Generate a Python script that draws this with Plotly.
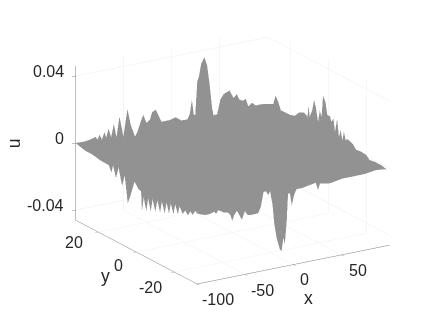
import numpy as np
import plotly.graph_objects as go

X_MIN, X_MAX = -100, 100
Y_MIN, Y_MAX = -32, 32
U_MIN, U_MAX = -0.046, 0.046

x_ticks = [-100, -50, 0, 50]
x_ticklabels = ["-100", "-50", "0", "50"]
y_ticks = [-20, 0, 20]
y_ticklabels = ["-20", "0", "20"]
u_ticks = [-0.04, 0, 0.04]
u_ticklabels = ["-0.04", "0", "0.04"]

# u (x1000) along the edge y = Y_MAX
x_back = [-100,-91.4,-87,-83,-79,-77,-75,-72.5,-70,-67.7,-65.6,-62.9,-60.1,-57.4,-54.3,-50.2,-46,-42.6,-38.1,-35.4,
          -32.7,-29.6,-26.1,-22.7,-20.3,-16.5,-14.1,-10.6,-2.1,4.1,10,16.2,18.6,21,23,24.4,26.5,28.2,30.6,34,36.8,
          39.5,42,43.6,47.1,50.5,53.9,60.1,64.3,67.7,70.4,73.9,77,79.7,83.5,87.6,91.8,100]
u_back = [0,-0.2,0.1,0.6,1.3,-0.7,2.2,-1.0,3.1,-0.9,4.7,-0.7,7.0,-1.3,10.7,-1.6,14.2,4.4,-3.3,-0.3,
          4.3,8.8,3.5,5.1,9.3,10.3,7.1,2.4,2.4,3.4,0.8,0.7,3.3,11.9,2.8,2.3,22,24.8,32.3,35.9,30.7,
          18.6,4.6,-0.1,0.1,8.5,11.4,12.9,7.9,9.9,6.2,5.2,5.9,1.2,2.8,0.7,0.9,0.3]
# u (x1000) along the edge x = X_MAX
y_right = [29.2,28,26.6,25.2,20.4,17.8,15.7,12.9,11.2,10.6,10,8.7,7.7,6.8,5.6,4.7,3.8,3,1.7,0.7,-0.7,-1.4,-2.5,-3.3,
           -4.4,-5.4,-6.3,-7.2,-8,-8.9,-10.1,-12.7,-14.5,-17.1,-19.8,-21.5,-24.2,-27.7,-30.3,-32]
u_right = [1.8,7.6,4.9,0.5,0.6,1.6,4.8,6.4,5.1,12.2,5.8,10.4,17.2,13.5,5.4,12.8,9.3,22.6,19.4,12.2,12.4,9.5,12.1,4.7,
           13.1,2.9,7.4,2,7.5,3.1,4.2,3,0.5,1,0.6,-1.4,-0.8,-0.8,-1.5,-0.6]
# u (x1000) along the edge x = X_MIN
y_left = [26.8,23.2,18.9,14.5,13.1,12.2,10.7,9.3,7.5,6.1,4.5,3.1,0.9,-1.2,-2.5,-3,-3.9,-5.3,-6.2,-7.6,-8.6,-10,-11.1,
          -12.5,-13.5,-14.9,-16,-17.2,-18.2,-19.6,-20.5,-21.9,-22.8,-24.4,-25.8,-27.2,-28.5,-29.7,-31]
u_left = [-1.6,-1.6,-2.6,-2.8,-6.4,-1.7,-8.4,-1.3,-11.1,-4.3,-19.7,-14.4,-4.6,-7.9,-8.2,-20,-11.3,-18.7,-10.4,-17.4,-9.5,-16.2,-8.7,
          -15.1,-8,-14.1,-7.2,-13,-6.5,-11.9,-5.5,-10.6,-5.2,-8.8,-5.9,-7.9,-4.8,-6.2,-3]
# u (x1000) along the edge y = Y_MIN
x_front = [-100,-95.9,-90.7,-87.2,-82,-80.3,-77.9,-72.3,-68.2,-65.5,-63.4,-61.3,-58.6,-56.2,-53.4,-50.3,-47.5,-44,-36.5,-33.7,
           -30.9,-28.5,-26.1,-24.1,-21.6,-19.9,-17.4,-14,-12.2,-10.2,-8.8,-6.8,-5.4,-3.6,-1.6,0.8,3.3,9.5,14.7,23.3,25.7,27.7,
           37,50.9,64.7,75,85.4,92.4,100]
u_front = [-3.9,-5,-5.9,-5.8,-5,-6.5,-4.5,-6.5,-7,-8.8,-12.6,-9.3,-7.2,-9.9,-13.1,-8.2,-10.9,-11.3,-11.2,-7.6,
           0.9,1.1,-1.6,0.5,-8,-19,-28.1,-35.3,-36.5,-28.9,-33,-19.5,-3,-3.2,-10.7,-4.7,-1.4,-1.4,-0.8,0.1,-4.6,-0.9,
           -2,-0.6,-0.6,-0.5,0.4,0.1,-0.6]

SURFACE_COLOR = "#929292"
TEXT_COLOR = "#262626"
FONT = "Liberation Sans"

ux = np.array(x_back + [X_MAX] * len(y_right), float)
uy = np.array([Y_MAX] * len(x_back) + y_right, float)
uz = np.array(u_back + u_right, float) / 1000
lx = np.array([X_MIN] * (len(y_left) + 1) + x_front, float)
ly = np.array([Y_MAX] + y_left + [Y_MIN] * len(x_front), float)
lz = np.array([0] + u_left + u_front, float) / 1000

# Two chains, swept together from the left tip to the right tip
def sweep(x, y):
    return (x - X_MIN) * 0.965 + (Y_MAX - y) * 1.906

su, sl = sweep(ux, uy), sweep(lx, ly)
nu = len(ux)
I, J, K = [], [], []
a, b = 0, 0
while a < nu - 1 or b < len(lx) - 1:
    adv_u = b == len(lx) - 1 or (a < nu - 1 and su[a + 1] <= sl[b + 1])
    if adv_u:
        I.append(a); J.append(a + 1); K.append(nu + b)
        a += 1
    else:
        I.append(a); J.append(nu + b + 1); K.append(nu + b)
        b += 1

fig = go.Figure(go.Mesh3d(
    x=np.r_[ux, lx], y=np.r_[uy, ly], z=np.r_[uz, lz], i=I, j=J, k=K,
    color=SURFACE_COLOR, flatshading=True, hoverinfo="skip",
    lighting=dict(ambient=1, diffuse=0, specular=0, roughness=1, fresnel=0),
))

def axis(rng, vals, text):
    return dict(
        range=rng, tickmode="array", tickvals=vals, ticktext=text, showticklabels=False,
        title=dict(text=""),
        showgrid=True, gridcolor="#ececec", gridwidth=1,
        zeroline=False, showbackground=False, showspikes=False,
        showline=True, linecolor="#7f7f7f", linewidth=1,
        ticks="outside", ticklen=4, tickcolor="#7f7f7f", tickwidth=1,
    )

def note(x, y, z, text, dx, dy, size=16, angle=0):
    return dict(x=x, y=y, z=z, text=text, showarrow=False, xanchor="center", yanchor="middle",
                xshift=dx, yshift=-dy, textangle=angle,
                font=dict(family=FONT, size=size, color=TEXT_COLOR))

notes = []
z_off = {"-0.04": (-30, -4.5), "0": (-16, -4.5), "0.04": (-26.5, -5)}
y_off = {"20": (-23.6, 10.7), "0": (-17.5, 13), "-20": (-23, 15.5)}
x_off = {"-100": (21, 15), "-50": (18, 16.5), "0": (12, 15), "50": (17, 15)}
for v, t in zip(u_ticks, u_ticklabels):
    notes.append(note(X_MIN, Y_MAX, v, t, *z_off[t]))
for v, t in zip(y_ticks, y_ticklabels):
    notes.append(note(X_MIN, v, U_MIN, t, *y_off[t]))
for v, t in zip(x_ticks, x_ticklabels):
    notes.append(note(v, Y_MIN, U_MIN, t, *x_off[t]))
notes.append(note(0, Y_MIN, U_MIN, "x", 16, 33, size=17.6))
notes.append(note(X_MIN, 0, U_MIN, "y", -31, 24, size=17.6))
notes.append(note(X_MIN, Y_MAX, 0, "u", -61, 0, size=17.6, angle=-90))

SCALE = 1.47
SHIFT_UP = -0.044
fig.update_layout(
    width=429, height=319, autosize=False, showlegend=False,
    paper_bgcolor="white", margin=dict(l=0, r=0, t=0, b=0),
    scene=dict(
        domain=dict(x=[0.0625, 0.9825], y=[0.034, 1.0]),
        xaxis=axis([X_MIN, X_MAX], x_ticks, x_ticklabels),
        yaxis=axis([Y_MIN, Y_MAX], y_ticks, y_ticklabels),
        zaxis=axis([U_MIN, U_MAX], u_ticks, u_ticklabels),
        aspectmode="manual", aspectratio=dict(x=SCALE, y=1.02 * SCALE, z=0.72 * SCALE),
        annotations=notes,
        camera=dict(
            eye=dict(x=-0.498 * 2, y=-0.804 * 2, z=0.3256 * 2 + SHIFT_UP),
            center=dict(x=0, y=0, z=SHIFT_UP), up=dict(x=0, y=0, z=1),
            projection=dict(type="orthographic"),
        ),
    ),
)
fig.write_html("out.html", config=dict(displayModeBar=False))
